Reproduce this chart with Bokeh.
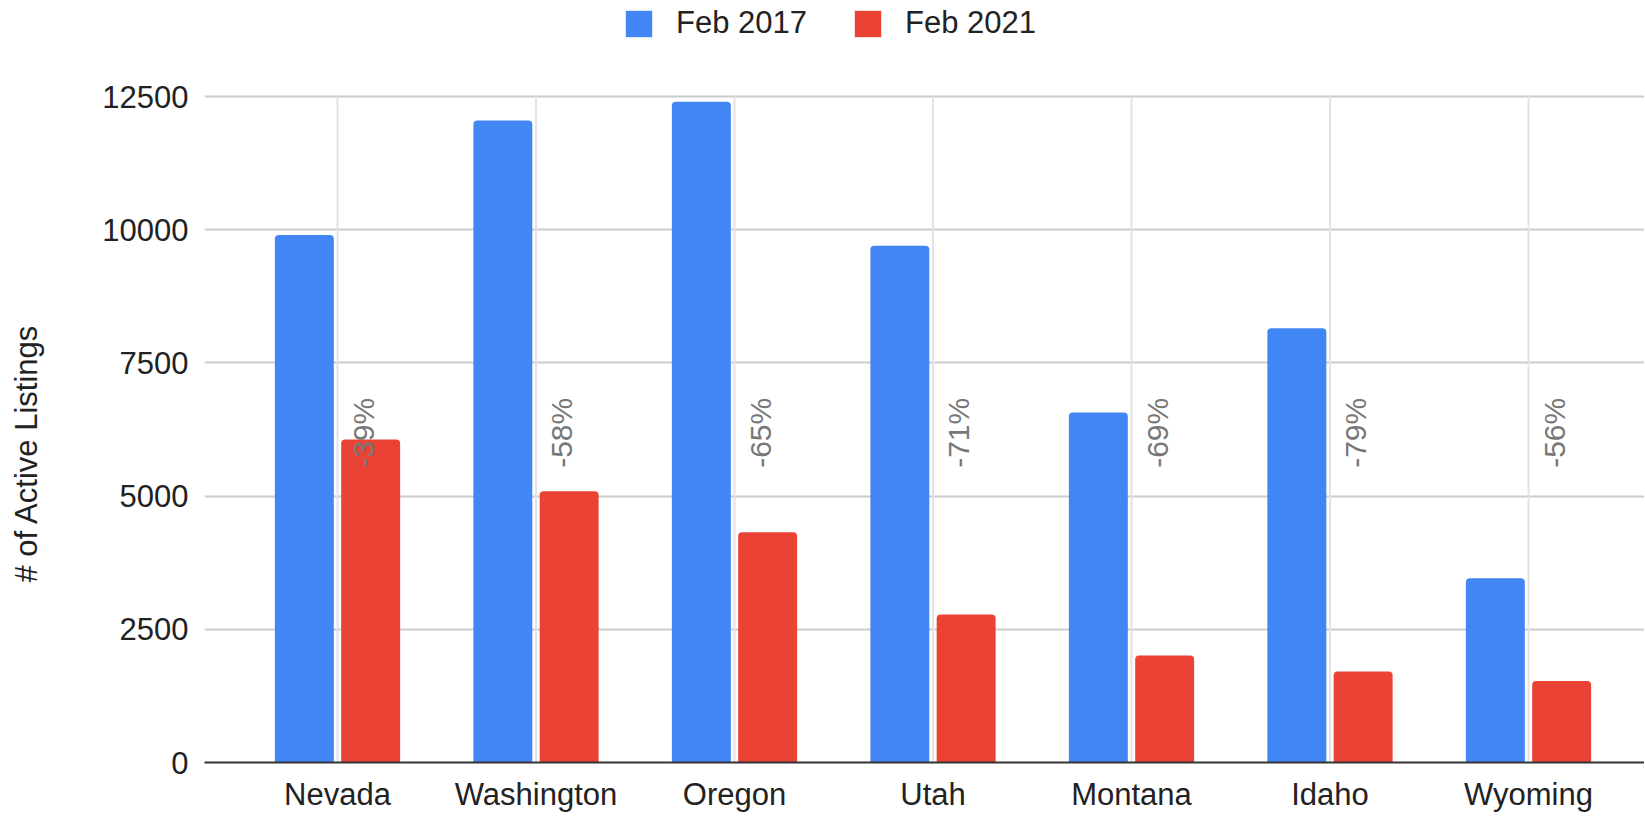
from math import pi

from bokeh.plotting import figure
from bokeh.models import ColumnDataSource, Range1d, FixedTicker, Legend, LegendItem, Title
from bokeh.transform import dodge
from bokeh.core.properties import value
from bokeh.embed import file_html
from bokeh.resources import INLINE

# ---- data ----
states = ["Nevada", "Washington", "Oregon", "Utah", "Montana", "Idaho", "Wyoming"]
feb_2017 = [9900, 12050, 12400, 9700, 6570, 8150, 3460]
feb_2021 = [6060, 5090, 4320, 2780, 2010, 1710, 1530]
pct_labels = ["-39%", "-58%", "-65%", "-71%", "-69%", "-79%", "-56%"]
series_names = ["Feb 2017", "Feb 2021"]
y_ticks = [0, 2500, 5000, 7500, 10000, 12500]
y_title = "# of Active Listings"

FONT = "Liberation Sans"
BLUE = "#4285F4"
RED = "#EA4335"

idx = list(range(len(states)))
src = ColumnDataSource(dict(x=idx, state=states, a=feb_2017, b=feb_2021, pct=pct_labels))

# layout geometry (pixels)
LEFT = 204
FRAME_W = 1440
FRAME_H = 762          # frame reaches the top edge; legend lives in its top strip
TOP_STRIP = 96         # pixels between frame top and the 12500 line
Y_MAX = 12500
Y_END = Y_MAX * FRAME_H / (FRAME_H - TOP_STRIP)
X_START = -0.670
X_END = X_START + FRAME_W / 198.5

p = figure(
    width=None, height=None, frame_width=FRAME_W, frame_height=FRAME_H,
    output_backend="svg", toolbar_location=None,
    x_range=Range1d(X_START, X_END), y_range=Range1d(0, Y_END),
    min_border_left=LEFT, min_border_right=0, min_border_top=0, min_border_bottom=10,
)
p.outline_line_color = None
p.background_fill_color = "white"
p.border_fill_color = "white"

# vertical grid lines at category centres (stop at the top gridline)
p.segment(x0="x", y0=0, x1="x", y1=Y_MAX, source=src,
          line_color="#e3e3e3", line_width=2)

bar_w = 0.297
off = 0.167
r1 = p.vbar(x=dodge("x", -off), top="a", width=bar_w, source=src,
            fill_color=BLUE, line_color=None, border_radius=(4, 4, 0, 0))
r2 = p.vbar(x=dodge("x", off), top="b", width=bar_w, source=src,
            fill_color=RED, line_color=None, border_radius=(4, 4, 0, 0))

label_y = 5530
p.text(x=dodge("x", 0.131), y=label_y, text="pct", source=src, angle=pi / 2,
       text_align="left", text_baseline="middle",
       text_font=value(FONT), text_font_size="30px", text_color="#777777")

# axes
p.xaxis.ticker = FixedTicker(ticks=idx)
p.xaxis.major_label_overrides = {i: s for i, s in enumerate(states)}
p.xaxis.axis_line_color = "#333333"
p.xaxis.axis_line_width = 2
p.xaxis.major_tick_line_color = None
p.xaxis.minor_tick_line_color = None
p.xaxis.major_label_text_font = FONT
p.xaxis.major_label_text_font_size = "31px"
p.xaxis.major_label_text_color = "#222222"
p.xaxis.major_label_standoff = 8

p.yaxis.ticker = FixedTicker(ticks=y_ticks)
p.yaxis.axis_line_color = None
p.yaxis.major_tick_line_color = None
p.yaxis.minor_tick_line_color = None
p.yaxis.major_label_text_font = FONT
p.yaxis.major_label_text_font_size = "31px"
p.yaxis.major_label_text_color = "#222222"
p.yaxis.major_label_standoff = 10
# blank axis label only reserves the gap between tick labels and the title
p.yaxis.axis_label = " "
p.yaxis.axis_label_text_font = FONT
p.yaxis.axis_label_text_font_size = "31px"
p.yaxis.axis_label_standoff = 18

# y title placed in the left panel so it can sit where the reference has it
p.add_layout(Title(text=y_title, align="left", offset=180, standoff=0,
                   vertical_align="bottom", text_font=FONT, text_font_size="31px",
                   text_font_style="normal", text_color="#222222"), "left")

# grids
p.xgrid.visible = False
p.ygrid.ticker = FixedTicker(ticks=y_ticks)
p.ygrid.grid_line_color = "#cccccc"
p.ygrid.grid_line_width = 2

LEG_H = 33
legend = Legend(
    items=[LegendItem(label=series_names[0], renderers=[r1]),
           LegendItem(label=series_names[1], renderers=[r2])],
    orientation="horizontal", location=(418, FRAME_H - 41),
    padding=0, margin=0, spacing=44, label_standoff=21,
    glyph_width=33, glyph_height=LEG_H,
    border_line_color=None, background_fill_alpha=0,
    label_text_font=FONT, label_text_font_size="31px", label_text_color="#222222",
)
p.add_layout(legend, "center")

open("out.html", "w").write(file_html(p, INLINE))
